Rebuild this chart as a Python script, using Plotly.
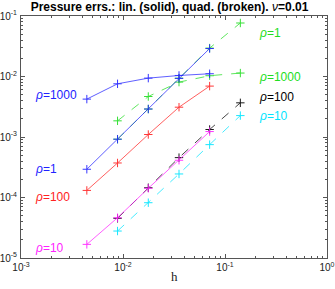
import plotly.graph_objects as go
import numpy as np

h_lin = [0.00442, 0.00884, 0.0177, 0.0354, 0.0707]
h_quad = [0.00884, 0.0177, 0.0354, 0.0707, 0.1414]

rho1_lin = [0.000293, 0.00092, 0.0029, 0.0093, 0.029]
rho1_quad = [0.00092, 0.0029, 0.0094, 0.0295, 0.0766]
rho1000_lin = [0.00423, 0.00757, 0.0094, 0.0104, 0.0111]
rho1000_quad = [0.00185, 0.00467, 0.00808, 0.0103, 0.0114]
rho100_lin = [0.000131, 0.000372, 0.00110, 0.00311, 0.00694]
rho100_quad = [4.53e-5, 1.45e-4, 4.56e-4, 1.33e-3, 3.67e-3]
rho10_lin = [1.68e-5, 4.63e-5, 1.42e-4, 4.13e-4, 1.23e-3]
rho10_quad = [2.79e-5, 8.2e-5, 2.45e-4, 7.48e-4, 2.26e-3]

x_ticks = [1e-3, 1e-2, 1e-1, 1e0]
x_ticktext = ["10<sup>-3</sup>", "10<sup>-2</sup>", "10<sup>-1</sup>", "10<sup>0</sup>"]
y_ticks = [1e-5, 1e-4, 1e-3, 1e-2, 1e-1]
y_ticktext = ["10<sup>-5</sup>", "10<sup>-4</sup>", "10<sup>-3</sup>", "10<sup>-2</sup>", "10<sup>-1</sup>"]

series = [
    (h_quad, rho1_quad, "#22dd22", "dash"),
    (h_quad, rho1000_quad, "#22dd22", "dash"),
    (h_quad, rho100_quad, "#000000", "dash"),
    (h_quad, rho10_quad, "#00e5ff", "dash"),
    (h_lin, rho1_lin, "#2222ff", "solid"),
    (h_lin, rho1000_lin, "#2222ff", "solid"),
    (h_lin, rho100_lin, "#ff2222", "solid"),
    (h_lin, rho10_lin, "#ff22ff", "solid"),
]

fig = go.Figure()
for xs, ys, col, dash in series:
    fig.add_trace(go.Scatter(
        x=xs, y=ys, mode="lines+markers",
        line=dict(color=col, width=0.8, dash=dash),
        marker=dict(symbol="cross-thin", size=6, line=dict(color=col, width=1)),
        opacity=0.9,
        showlegend=False,
    ))

labels = [
    ("<i>ρ</i>=1000", "#2222ff", 0.038, 0.675),
    ("<i>ρ</i>=1", "#2222ff", 0.038, 0.368),
    ("<i>ρ</i>=100", "#ff2222", 0.038, 0.253),
    ("<i>ρ</i>=10", "#ff22ff", 0.038, 0.040),
    ("<i>ρ</i>=1", "#22dd22", 0.772, 0.930),
    ("<i>ρ</i>=1000", "#22dd22", 0.772, 0.749),
    ("<i>ρ</i>=100", "#000000", 0.772, 0.666),
    ("<i>ρ</i>=10", "#00e5ff", 0.772, 0.588),
]
for txt, col, px, py in labels:
    fig.add_annotation(text=txt, x=px, y=py, xref="paper", yref="paper",
                       xanchor="left", yanchor="middle", showarrow=False,
                       font=dict(color=col, size=12, family="Liberation Sans"))

# x-axis title
fig.add_annotation(text="h", x=0.5, y=-0.078, xref="paper", yref="paper",
                   xanchor="center", yanchor="middle", showarrow=False,
                   font=dict(family="Liberation Serif", size=13, color="#222222"))

def minor_vals(lo, hi):
    vals = []
    for d in range(lo, hi):
        for k in range(2, 10):
            vals.append(k * 10.0 ** d)
    return vals

axis_common = dict(
    type="log", showgrid=False, zeroline=False, automargin=False,
    showline=True, linecolor="#555555", linewidth=1, mirror="allticks",
    ticks="inside", ticklen=4, tickcolor="#555555",
    tickfont=dict(size=10, family="Liberation Sans", color="#222222"),
)

fig.update_xaxes(range=[-3, 0], tickvals=x_ticks, ticktext=x_ticktext,
                 minor=dict(tickvals=minor_vals(-3, 0), ticks="inside", ticklen=2, tickcolor="#555555"),
                 **axis_common)
fig.update_yaxes(range=[-5, -1], tickvals=y_ticks, ticktext=y_ticktext,
                 ticklabelstandoff=1,
                 minor=dict(tickvals=minor_vals(-5, -1), ticks="inside", ticklen=2, tickcolor="#555555"),
                 **axis_common)

fig.update_layout(
    width=335, height=289,
    margin=dict(l=21, r=8, t=16, b=31),
    paper_bgcolor="white", plot_bgcolor="white",
    title=dict(text="<b>Pressure errs.: lin. (solid), quad. (broken). </b><i>ν</i><b>=0.01</b>",
               x=0.506, xanchor="center", xref="container",
               y=1 - 7 / 289, yanchor="middle", yref="container",
               font=dict(size=12, family="Liberation Sans", color="#000000")),
)

fig.write_html("out.html", config={"displayModeBar": False},
               post_script="document.body.style.margin='0';document.body.style.overflow='hidden';")
